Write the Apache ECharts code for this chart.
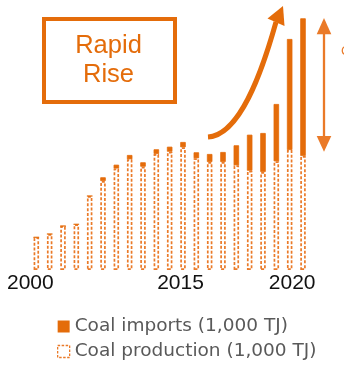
<!DOCTYPE html>
<html>
<head>
<meta charset="utf-8">
<style>
  html, body { margin: 0; padding: 0; background: #fff; }
  #chart { width: 344px; height: 368px; }
</style>
<script src="https://cdn.jsdelivr.net/npm/echarts@6/dist/echarts.min.js"></script>
</head>
<body>
<div id="chart"></div>
<script>
// Bar categories (one per year); only a few carry a printed tick label
const categories = ['2000', '', '', '', '', '', '', '', '', '', '', '2015', '', '', '', '', '', '', '', '2020', ''];

// Coal production (1,000 TJ)
const production = [327, 360, 440, 457, 740, 890, 1015, 1107, 1033, 1160, 1183, 1227, 1117, 1080, 1080, 1047, 993, 980, 1087, 1200, 1140];

// Coal imports (1,000 TJ), stacked on top of production
const imports = [0, 0, 0, 0, 0, 37, 38, 43, 44, 47, 50, 53, 60, 80, 100, 200, 360, 390, 573, 1110, 1377];

const ORANGE = '#E46C0A';
const ORANGE_LIGHT = '#EA7A28';
const LEGEND_FONT = '"DejaVu Sans", Verdana, sans-serif';
const AXIS_FONT = '"Liberation Sans", Arial, sans-serif';

const nameImports = 'Coal imports (1,000 TJ)';
const nameProduction = 'Coal production (1,000 TJ)';

const labelStyleKey = { '2000': 'a', '2015': 'b', '2020': 'c' };

const chart = echarts.init(document.getElementById('chart'), null, { renderer: 'canvas' });

chart.setOption({
  animation: false,
  backgroundColor: '#fff',
  grid: { left: 29.67, right: 34.33, top: 0, bottom: 98, containLabel: false },
  xAxis: {
    type: 'category',
    data: categories,
    axisLine: { show: false },
    axisTick: { show: false },
    axisLabel: {
      interval: 0,
      margin: 3,
      color: '#111',
      fontFamily: AXIS_FONT,
      fontSize: 21,
      formatter: function (v) {
        if (!v) return '';
        return '{' + labelStyleKey[v] + '|' + v + '}';
      },
      rich: {
        a: { fontSize: 21, color: '#111', fontFamily: AXIS_FONT, padding: [0, 12, 0, 0] },
        b: { fontSize: 21, color: '#111', fontFamily: AXIS_FONT, padding: [0, 5, 0, 0] },
        c: { fontSize: 21, color: '#111', fontFamily: AXIS_FONT, padding: [0, 0, 0, 5] }
      }
    }
  },
  yAxis: {
    type: 'value',
    min: 0,
    max: 2700,
    show: false,
    splitLine: { show: false }
  },
  legend: {
    orient: 'vertical',
    left: 52,
    top: 312,
    padding: 5,
    itemWidth: 12,
    itemHeight: 12,
    itemGap: 6,
    textStyle: {
      fontFamily: LEGEND_FONT,
      fontSize: 18.5,
      color: '#595959'
    },
    data: [
      { name: nameImports, icon: 'rect', itemStyle: { color: ORANGE, borderWidth: 0 } },
      {
        name: nameProduction,
        icon: 'rect',
        itemStyle: { color: '#fff', borderColor: ORANGE_LIGHT, borderWidth: 1.3, borderType: [2.5, 1.5] }
      }
    ]
  },
  series: [
    {
      name: nameProduction,
      type: 'bar',
      stack: 'coal',
      barWidth: 5.5,
      data: production,
      itemStyle: {
        color: '#fff',
        borderColor: ORANGE_LIGHT,
        borderWidth: 1.7,
        borderType: [3, 1.8]
      }
    },
    {
      name: nameImports,
      type: 'bar',
      stack: 'coal',
      barWidth: 5.5,
      data: imports,
      itemStyle: { color: ORANGE, borderColor: ORANGE, borderWidth: 0.8 }
    }
  ],
  graphic: [
    // "Rapid Rise" callout box
    {
      type: 'rect',
      shape: { x: 44, y: 19, width: 131, height: 83 },
      style: { fill: 'none', stroke: ORANGE, lineWidth: 4 }
    },
    {
      type: 'text',
      x: 108.5, y: 45.5,
      style: {
        text: 'Rapid', fill: ORANGE, font: '25.5px "Liberation Sans", Arial, sans-serif',
        align: 'center', verticalAlign: 'middle'
      }
    },
    {
      type: 'text',
      x: 108.5, y: 75,
      style: {
        text: 'Rise', fill: ORANGE, font: '25.5px "Liberation Sans", Arial, sans-serif',
        align: 'center', verticalAlign: 'middle'
      }
    },
    // Curved rising arrow
    {
      type: 'bezierCurve',
      shape: { x1: 208, y1: 137, cpx1: 240, cpy1: 135, cpx2: 262, cpy2: 72, x2: 276, y2: 22 },
      style: { stroke: ORANGE, lineWidth: 5, fill: 'none' }
    },
    {
      type: 'polygon',
      shape: { points: [[283, 6], [267.5, 18.5], [284.5, 26]] },
      style: { fill: ORANGE }
    },
    // Double-headed range arrow
    {
      type: 'line',
      shape: { x1: 324, y1: 30, x2: 324, y2: 140 },
      style: { stroke: ORANGE_LIGHT, lineWidth: 2.3 }
    },
    {
      type: 'polygon',
      shape: { points: [[324, 18], [316.7, 34.3], [331.3, 34.3]] },
      style: { fill: ORANGE_LIGHT }
    },
    {
      type: 'polygon',
      shape: { points: [[324, 151.7], [316.7, 136], [331.3, 136]] },
      style: { fill: ORANGE_LIGHT }
    },
    {
      type: 'text',
      x: 341, y: 51,
      style: {
        text: 'C', fill: ORANGE_LIGHT, font: '13px "Liberation Sans", Arial, sans-serif',
        align: 'left', verticalAlign: 'middle'
      }
    }
  ]
});
</script>
</body>
</html>
